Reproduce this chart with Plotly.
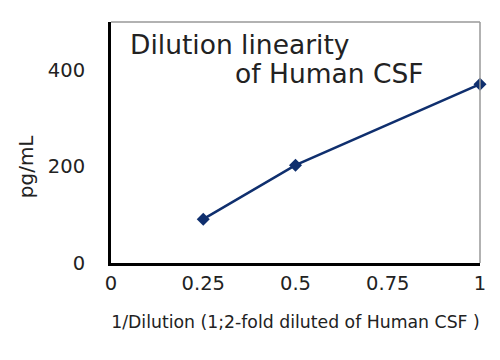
import plotly.graph_objects as go

x_vals = [0.25, 0.5, 1.0]
y_vals = [91, 203, 371]
x_ticks = [0, 0.25, 0.5, 0.75, 1]
x_tick_labels = ["0", "0.25", "0.5", "0.75", "1"]
y_ticks = [0, 200, 400]
y_tick_labels = ["0", "200", "400"]

FONT = "DejaVu Sans"
TXT = "#222222"

fig = go.Figure()
fig.add_trace(go.Scatter(
    x=x_vals, y=y_vals, mode="lines+markers",
    line=dict(color="#0f2f6e", width=2.5),
    marker=dict(symbol="diamond", size=10, color="#0f2f6e"),
    cliponaxis=False, showlegend=False,
))

fig.update_layout(
    width=500, height=360,
    margin=dict(l=103, r=28, t=14, b=105),
    paper_bgcolor="white", plot_bgcolor="white",
    font=dict(family=FONT, color=TXT, size=16),
    xaxis=dict(
        range=[0, 1], tickvals=x_ticks, ticktext=x_tick_labels, automargin=False,
        showgrid=False, zeroline=False, showline=True, linecolor="black", linewidth=3,
        ticks="", ticklabelstandoff=1, tickfont=dict(size=19.5, family=FONT, color=TXT),
        title=dict(text="1/Dilution (1;2-fold diluted of Human CSF )", font=dict(size=17.3, family=FONT, color=TXT), standoff=22),
    ),
    yaxis=dict(
        range=[0, 500], tickvals=y_ticks, ticktext=y_tick_labels, automargin=False,
        showgrid=False, zeroline=False, showline=True, linecolor="black", linewidth=3,
        ticks="", ticklabelstandoff=19, tickfont=dict(size=19.5, family=FONT, color=TXT),
    ),
    shapes=[
        dict(type="line", xref="paper", yref="paper", x0=0, x1=1, y0=1, y1=1, line=dict(color="#999999", width=1.5)),
        dict(type="line", xref="paper", yref="paper", x0=1, x1=1, y0=0, y1=1, line=dict(color="#999999", width=1.5)),
    ],
    annotations=[
        dict(text="Dilution linearity", xref="paper", yref="paper", x=0.045, y=0.905,
             xanchor="left", yanchor="middle", showarrow=False, font=dict(size=26.5, family=FONT, color=TXT)),
        dict(text="of Human CSF", xref="paper", yref="paper", x=0.855, y=0.788,
             xanchor="right", yanchor="middle", showarrow=False, font=dict(size=26.5, family=FONT, color=TXT)),
        dict(text="pg/mL", xref="paper", yref="paper", x=-0.230, y=0.402, textangle=-90,
             xanchor="center", yanchor="middle", showarrow=False, font=dict(size=20, family=FONT, color=TXT)),
    ],
)

fig.write_html("out.html")
